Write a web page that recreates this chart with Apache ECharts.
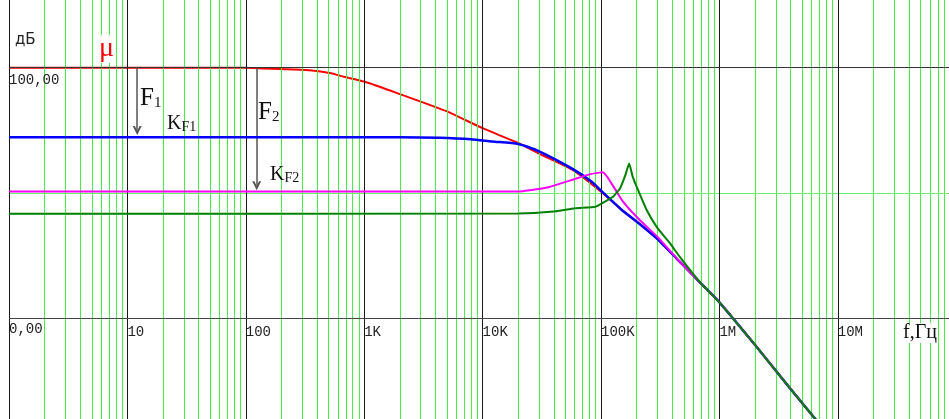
<!DOCTYPE html>
<html>
<head>
<meta charset="utf-8">
<script src="https://cdn.jsdelivr.net/npm/echarts@6/dist/echarts.min.js"></script>
<style>
  html, body { margin: 0; padding: 0; background: #fff; }
  #chart { width: 949px; height: 419px; }
</style>
</head>
<body>
<div id="chart"></div>
<script>
// decade ticks and their labels
const decades = [1, 10, 100, 1e3, 1e4, 1e5, 1e6, 1e7];
const decadeLabels = ['', '10', '100', '1K', '10K', '100K', '1M', '10M'];
const minorSteps = [2, 3, 4, 5, 6, 7, 8, 9];

// open loop gain mu (red)
const muFreq = [1, 100, 143, 256, 346, 511, 689, 1000, 2000, 5000, 10000, 20000, 30000, 58000, 100000];
const muDb   = [100, 100, 99.7, 99.3, 99.0, 97.9, 96.3, 94.5, 89.5, 82.6, 75.9, 70.0, 65.8, 59.2, 50.6];

// K_F1 (blue)
const kf1Freq = [1, 2000, 4300, 8000, 12000, 20000, 30000, 58000, 84000, 100000];
const kf1Db   = [72.3, 72.3, 72.1, 71.5, 70.6, 69.6, 66.7, 59.6, 54.5, 51.0];

// K_F2 (magenta)
const kf2Freq = [1, 20000, 25000, 36000, 56000, 80000, 104000, 126000, 154000, 212000, 300000];
const kf2Db   = [50.7, 50.7, 51.2, 52.4, 55.2, 57.5, 58.3, 53.0, 46.5, 39.3, 32.6];

// deepest feedback (dark green)
const kf3Freq = [1, 20000, 40000, 60000, 90000, 104000, 127000, 145000, 160000, 173000, 184000, 200000, 243000, 295000, 383000, 465000];
const kf3Db   = [41.8, 41.9, 42.7, 44.0, 44.6, 46.2, 48.7, 52.0, 57.0, 61.8, 57.0, 52.6, 43.3, 36.6, 30.0, 24.5];

// common high frequency slope
const tailFreq = [150000, 212000, 300000, 460000, 700000, 1e6, 2e6, 4e6, 7e6];
const tailDb   = [43.3, 37.7, 31.7, 22.8, 14.0, 6.5, -10.5, -28.1, -42];

function pairs(f, v) { return f.map((x, i) => [x, v[i]]); }
function withTail(f, v, from) {
  const d = pairs(f, v);
  tailFreq.forEach((x, i) => { if (x > from) d.push([x, tailDb[i]]); });
  return d;
}

const minorLines = [];
decades.forEach(d => minorSteps.forEach(m => { if (d * m < 8.69e7) minorLines.push({ xAxis: d * m }); }));

const chevron = 'path://M0,10 L5,0 L10,10 L7.6,10 L5,4.6 L2.4,10 Z';
const monoLabel = { fontFamily: 'Liberation Mono', fontSize: 14, color: '#222' };

const chart = echarts.init(document.getElementById('chart'));
chart.setOption({
  animation: false,
  grid: { left: 9, right: 0, top: 0, bottom: 0, outerBoundsMode: 'none', containLabel: false },
  xAxis: {
    type: 'log', min: 1, max: 8.69e7,
    axisLine: { show: false }, axisTick: { show: false },
    splitLine: { show: false }, axisLabel: { show: false }
  },
  yAxis: {
    type: 'value', min: -40, max: 127,
    axisLine: { show: false }, axisTick: { show: false },
    axisLabel: { show: false }, splitLine: { show: false }
  },
  series: [
    {
      type: 'line', data: [], z: 1, silent: true,
      markLine: {
        silent: true, symbol: 'none', animation: false,
        label: { show: false },
        lineStyle: { color: '#48ee48', width: 1, type: 'solid' },
        data: minorLines.concat([{ yAxis: 50, lineStyle: { color: '#70ee70' } }])
      }
    },
    {
      type: 'line', data: [], z: 2, silent: true,
      markLine: {
        silent: true, symbol: 'none', animation: false,
        label: { show: false },
        lineStyle: { color: '#1a1a1a', width: 1, type: 'solid' },
        data: decades.map(d => ({ xAxis: d })).concat([
          { yAxis: 100, lineStyle: { color: '#333' },
            label: Object.assign({ show: true, position: 'insideStartBottom', formatter: '100,00', distance: [0, 6] }, monoLabel) },
          { yAxis: 0, lineStyle: { color: '#444' },
            label: Object.assign({ show: true, position: 'insideStartBottom', formatter: '0,00', distance: [0, 4] }, monoLabel) }
        ])
      },
      markPoint: {
        silent: true, symbol: 'circle', symbolSize: 0, animation: false,
        label: Object.assign({ show: true, position: [0, 7], align: 'left', verticalAlign: 'top',
                               formatter: p => p.name }, monoLabel),
        data: decades.map((d, i) => ({ coord: [d, 0], name: decadeLabels[i] })).filter(p => p.name)
      }
    },
    {
      type: 'line', data: [], z: 3, silent: true,
      markLine: {
        silent: true, animation: false,
        symbol: ['none', chevron], symbolSize: [9, 9],
        label: { show: false },
        lineStyle: { color: '#555', width: 1.5, type: 'solid' },
        data: [
          [{ coord: [12.1, 100] }, { coord: [12.1, 75] }],
          [{ coord: [123.6, 100] }, { coord: [123.6, 53] }]
        ]
      }
    },
    { name: 'μ', type: 'line', showSymbol: false, z: 4, smooth: 0.2, data: withTail(muFreq, muDb, 100000),
      lineStyle: { color: '#ff0000', width: 2 } },
    { name: 'KF1', type: 'line', showSymbol: false, z: 5, smooth: 0.2, data: withTail(kf1Freq, kf1Db, 100000),
      lineStyle: { color: '#0000ff', width: 2.5 } },
    { name: 'KF2', type: 'line', showSymbol: false, z: 6, smooth: 0.15, data: withTail(kf2Freq, kf2Db, 300000),
      lineStyle: { color: '#ff00ff', width: 2 } },
    { name: 'KF3', type: 'line', showSymbol: false, z: 7, smooth: 0.15, data: withTail(kf3Freq, kf3Db, 465000),
      lineStyle: { color: '#008000', width: 2 } }
  ],
  graphic: [
    // white boxes behind the K labels, under the curves
    { type: 'rect', z: 3, silent: true, shape: { x: 162, y: 113, width: 39, height: 22 }, style: { fill: '#fff' } },
    { type: 'rect', z: 3, silent: true, shape: { x: 267, y: 162, width: 39, height: 27 }, style: { fill: '#fff' } },
    { type: 'text', left: 15, top: 33, z: 100,
      style: { text: 'дБ', font: '15px "DejaVu Sans"', fill: '#222', backgroundColor: '#fff' } },
    { type: 'text', left: 99, top: 35, z: 100,
      style: { text: 'μ', font: '28px "Liberation Serif"', fill: '#ff0000', backgroundColor: '#fff' } },
    { type: 'text', left: 140, top: 86, z: 100,
      style: { text: '{a|F}{b|1}', backgroundColor: '#fff',
        rich: { a: { font: '25px "Liberation Serif"', fill: '#111', verticalAlign: 'bottom' },
                b: { font: '15px "Liberation Serif"', fill: '#111', verticalAlign: 'bottom' } } } },
    { type: 'text', left: 167, top: 114, z: 100,
      style: { text: '{a|K}{b|F1}',
        rich: { a: { font: '20px "Liberation Serif"', fill: '#111', verticalAlign: 'bottom' },
                b: { font: '14px "Liberation Serif"', fill: '#111', verticalAlign: 'bottom' } } } },
    { type: 'text', left: 258, top: 100, z: 100,
      style: { text: '{a|F}{b|2}', backgroundColor: '#fff',
        rich: { a: { font: '25px "Liberation Serif"', fill: '#111', verticalAlign: 'bottom' },
                b: { font: '15px "Liberation Serif"', fill: '#111', verticalAlign: 'bottom' } } } },
    { type: 'text', left: 270, top: 165, z: 100,
      style: { text: '{a|K}{b|F2}',
        rich: { a: { font: '20px "Liberation Serif"', fill: '#111', verticalAlign: 'bottom' },
                b: { font: '14px "Liberation Serif"', fill: '#111', verticalAlign: 'bottom' } } } },
    { type: 'text', left: 903, top: 323, z: 100,
      style: { text: 'f,Гц', font: '20px "Liberation Serif"', fill: '#111', backgroundColor: '#fff' } }
  ]
});
</script>
</body>
</html>
